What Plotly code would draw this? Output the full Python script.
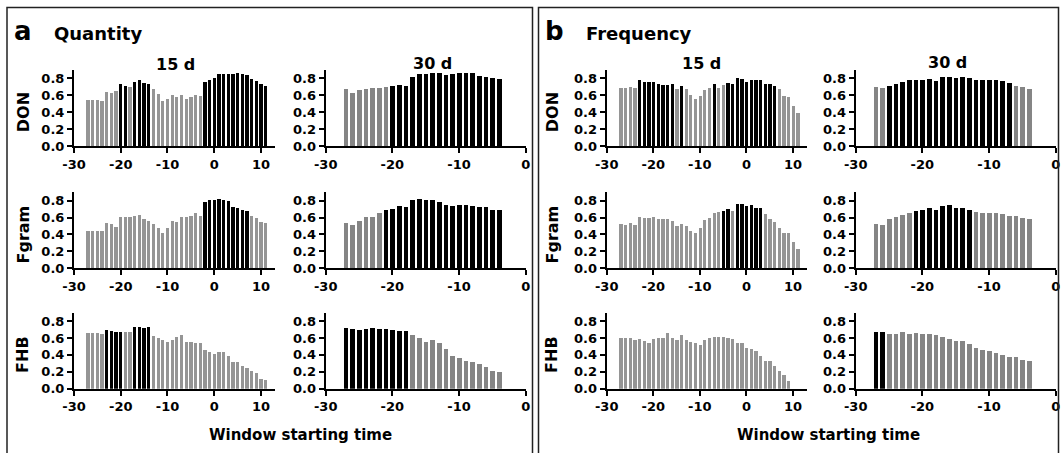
import plotly.graph_objects as go

W, H = 1062, 453

# ---------------- data ----------------
# window starting times (days)
START_15 = [-27, -26, -25, -24, -23, -22, -21, -20, -19, -18, -17, -16, -15, -14,
            -13, -12, -11, -10, -9, -8, -7, -6, -5, -4, -3, -2, -1, 0, 1, 2, 3,
            4, 5, 6, 7, 8, 9, 10, 11]
START_15_SHORT = [-27, -26, -25, -24, -23, -22, -21, -20, -19, -18, -17, -16, -15,
                  -14, -13, -12, -11, -10, -9, -8, -7, -6, -5, -4, -3, -2, -1, 0,
                  1, 2, 3, 4, 5, 6, 7, 8, 9]
START_30 = [-27, -26, -25, -24, -23, -22, -21, -20, -19, -18, -17, -16, -15, -14,
            -13, -12, -11, -10, -9, -8, -7, -6, -5, -4]

# (a) Quantity
q15_don = [0.55, 0.55, 0.55, 0.53, 0.64, 0.63, 0.65, 0.73, 0.71, 0.70, 0.76, 0.78,
           0.75, 0.73, 0.67, 0.62, 0.53, 0.56, 0.61, 0.58, 0.61, 0.56, 0.58, 0.60,
           0.59, 0.76, 0.78, 0.80, 0.85, 0.85, 0.85, 0.85, 0.86, 0.855, 0.84, 0.79,
           0.77, 0.73, 0.71]
q30_don = [0.67, 0.63, 0.66, 0.68, 0.69, 0.69, 0.70, 0.71, 0.72, 0.71, 0.82, 0.85,
           0.85, 0.86, 0.86, 0.84, 0.85, 0.86, 0.87, 0.86, 0.83, 0.82, 0.80, 0.79]
q15_fgram = [0.44, 0.44, 0.44, 0.44, 0.53, 0.52, 0.49, 0.60, 0.60, 0.60, 0.62, 0.63,
             0.58, 0.56, 0.52, 0.48, 0.42, 0.48, 0.56, 0.55, 0.60, 0.61, 0.62, 0.65,
             0.62, 0.78, 0.80, 0.81, 0.82, 0.81, 0.79, 0.72, 0.71, 0.69, 0.67, 0.62,
             0.59, 0.54, 0.53]
q30_fgram = [0.53, 0.51, 0.56, 0.60, 0.61, 0.65, 0.69, 0.70, 0.73, 0.72, 0.80, 0.82,
             0.81, 0.80, 0.78, 0.75, 0.74, 0.75, 0.75, 0.73, 0.72, 0.72, 0.69, 0.69]
q15_fhb = [0.66, 0.66, 0.66, 0.65, 0.70, 0.69, 0.67, 0.67, 0.67, 0.67, 0.74, 0.73,
           0.72, 0.73, 0.63, 0.60, 0.58, 0.56, 0.58, 0.62, 0.64, 0.56, 0.56, 0.54,
           0.54, 0.465, 0.44, 0.42, 0.44, 0.44, 0.39, 0.32, 0.32, 0.27, 0.25, 0.22,
           0.19, 0.12, 0.11]
q30_fhb = [0.72, 0.71, 0.70, 0.71, 0.72, 0.71, 0.71, 0.70, 0.69, 0.69, 0.64, 0.60,
           0.56, 0.575, 0.54, 0.47, 0.39, 0.37, 0.335, 0.315, 0.295, 0.26, 0.21, 0.205]

# (b) Frequency
f15_don = [0.69, 0.69, 0.70, 0.69, 0.78, 0.76, 0.76, 0.76, 0.74, 0.72, 0.72, 0.73,
           0.67, 0.71, 0.68, 0.61, 0.56, 0.59, 0.66, 0.69, 0.74, 0.69, 0.72, 0.75,
           0.73, 0.81, 0.79, 0.76, 0.78, 0.78, 0.78, 0.74, 0.74, 0.71, 0.68, 0.59,
           0.58, 0.48, 0.39]
f30_don = [0.70, 0.69, 0.71, 0.73, 0.76, 0.78, 0.78, 0.78, 0.79, 0.77, 0.82, 0.82,
           0.80, 0.82, 0.80, 0.78, 0.78, 0.78, 0.78, 0.77, 0.75, 0.71, 0.70, 0.68]
f15_fgram = [0.52, 0.515, 0.535, 0.515, 0.61, 0.595, 0.595, 0.60, 0.58, 0.58, 0.575,
             0.56, 0.50, 0.52, 0.50, 0.44, 0.42, 0.48, 0.57, 0.59, 0.65, 0.66, 0.68,
             0.70, 0.67, 0.76, 0.76, 0.74, 0.75, 0.71, 0.71, 0.64, 0.58, 0.54, 0.48,
             0.42, 0.41, 0.31, 0.23]
f30_fgram = [0.52, 0.51, 0.575, 0.60, 0.63, 0.65, 0.68, 0.69, 0.705, 0.69, 0.74,
             0.75, 0.71, 0.71, 0.69, 0.66, 0.655, 0.65, 0.65, 0.635, 0.615, 0.615,
             0.595, 0.575]
f15_fhb = [0.61, 0.61, 0.60, 0.58, 0.595, 0.57, 0.54, 0.595, 0.61, 0.61, 0.66, 0.61,
           0.58, 0.64, 0.58, 0.56, 0.55, 0.52, 0.575, 0.60, 0.62, 0.62, 0.62, 0.60,
           0.59, 0.54, 0.54, 0.485, 0.47, 0.45, 0.39, 0.33, 0.335, 0.27, 0.22, 0.165,
           0.095]
f30_fhb = [0.68, 0.675, 0.655, 0.655, 0.67, 0.655, 0.66, 0.655, 0.655, 0.645, 0.62,
           0.59, 0.57, 0.57, 0.53, 0.49, 0.465, 0.455, 0.425, 0.405, 0.385, 0.375,
           0.345, 0.335]

# windows drawn in black (significant)
q15_don_sig = [-20, -19, -17, -16, -15, -14, -2, -1, 0, 1, 2, 3, 4, 5, 6, 7, 8, 9, 10, 11]
q30_don_sig = [-20, -19, -18, -17, -16, -15, -14, -13, -12, -11, -10, -9, -8, -7, -6, -5, -4]
q15_fgram_sig = [-2, -1, 0, 1, 2, 3, 4, 5, 6, 7]
q30_fgram_sig = [-21, -20, -19, -18, -17, -16, -15, -14, -13, -12, -11, -10, -9, -8,
                 -7, -6, -5, -4]
q15_fhb_sig = [-23, -22, -21, -20, -17, -16, -15, -14]
q30_fhb_sig = [-27, -26, -25, -24, -23, -22, -21, -20, -19, -18]
f15_don_sig = [-23, -22, -21, -20, -19, -18, -17, -16, -14, -7, -4, -3, -2, -1, 0, 1,
               2, 3, 4, 5, 6]
f30_don_sig = [-25, -24, -23, -22, -21, -20, -19, -18, -17, -16, -15, -14, -13, -12,
               -11, -10, -9, -8, -7]
f15_fgram_sig = [-5, -4, -2, -1, 0, 1, 2, 3]
f30_fgram_sig = [-21, -20, -19, -18, -17, -16, -15, -14, -13]
f15_fhb_sig = []
f30_fhb_sig = [-27, -26]

ROW_NAMES = ["DON", "Fgram", "FHB"]
X_TICKS_15 = [-30, -20, -10, 0, 10]
X_TICKTEXT_15 = ["-30", "-20", "-10", "0", "10"]
X_TICKS_30 = [-30, -20, -10, 0]
X_TICKTEXT_30 = ["-30", "-20", "-10", "0"]
Y_TICKS = [0.0, 0.2, 0.4, 0.6, 0.8]
Y_TICKTEXT = ["0.0", "0.2", "0.4", "0.6", "0.8"]

# ---------------- layout helpers ----------------
FONT = "DejaVu Sans"
BLACK = "#000000"
GRAY15 = "#959595"
GRAY30 = "#858585"

COL_PX = {("a", 15): (74.0, 275.0), ("a", 30): (325.7, 525.7),
          ("b", 15): (606.7, 807.0), ("b", 30): (855.7, 1055.7)}
ROW_PX = [(69.9, 146.0), (192.2, 268.3), (312.6, 388.7)]


def fx(p):
    return p / W


def fy(p):
    return 1 - p / H


panels = [
    ("a", 15, 0, START_15, q15_don, q15_don_sig),
    ("a", 30, 0, START_30, q30_don, q30_don_sig),
    ("a", 15, 1, START_15, q15_fgram, q15_fgram_sig),
    ("a", 30, 1, START_30, q30_fgram, q30_fgram_sig),
    ("a", 15, 2, START_15, q15_fhb, q15_fhb_sig),
    ("a", 30, 2, START_30, q30_fhb, q30_fhb_sig),
    ("b", 15, 0, START_15, f15_don, f15_don_sig),
    ("b", 30, 0, START_30, f30_don, f30_don_sig),
    ("b", 15, 1, START_15, f15_fgram, f15_fgram_sig),
    ("b", 30, 1, START_30, f30_fgram, f30_fgram_sig),
    ("b", 15, 2, START_15_SHORT, f15_fhb, f15_fhb_sig),
    ("b", 30, 2, START_30, f30_fhb, f30_fhb_sig),
]

fig = go.Figure()
layout = {}
tickfont = dict(family=FONT, size=13, color="black", weight="bold")

for i, (side, win, row, xs, ys, sig) in enumerate(panels, start=1):
    xn = "x" if i == 1 else f"x{i}"
    yn = "y" if i == 1 else f"y{i}"
    gray = GRAY15 if win == 15 else GRAY30
    colors = [BLACK if s in sig else gray for s in xs]
    fig.add_trace(go.Bar(x=xs, y=ys, width=0.7,
                         marker=dict(color=colors, line=dict(width=0)),
                         xaxis=xn, yaxis=yn, showlegend=False, hoverinfo="skip"))
    x0, x1 = COL_PX[(side, win)]
    y0, y1 = ROW_PX[row]
    layout[f"xaxis{i}"] = dict(
        domain=[fx(x0), fx(x1)], anchor=yn, automargin=False,
        range=[-30, 13] if win == 15 else [-30, 0],
        tickvals=X_TICKS_15 if win == 15 else X_TICKS_30,
        ticktext=X_TICKTEXT_15 if win == 15 else X_TICKTEXT_30,
        showline=True, linecolor="black", linewidth=2,
        ticks="outside", ticklen=5, tickwidth=2, tickcolor="black",
        tickfont=tickfont, showgrid=False, zeroline=False, fixedrange=True)
    layout[f"yaxis{i}"] = dict(
        domain=[fy(y1), fy(y0)], anchor=xn, automargin=False,
        range=[0, 0.9], tickvals=Y_TICKS, ticktext=Y_TICKTEXT,
        showline=True, linecolor="black", linewidth=2,
        ticks="outside", ticklen=5, tickwidth=2, tickcolor="black",
        tickfont=tickfont, showgrid=False, zeroline=False, fixedrange=True)

annotations = []


def add_text(text, x, y, size, angle=0):
    annotations.append(dict(text=text, x=fx(x), y=fy(y), xref="paper", yref="paper",
                            xanchor="center", yanchor="middle", showarrow=False,
                            textangle=angle,
                            font=dict(family=FONT, size=size, color="black",
                                      weight="bold")))


# panel letters and headings
add_text("a", 23, 31, 26)
add_text("Quantity", 97.5, 33, 18)
add_text("b", 554, 31, 26)
add_text("Frequency", 639, 33, 18)
# window lengths
add_text("15 d", 175, 64, 16)
add_text("30 d", 432.5, 63, 16)
add_text("15 d", 701.7, 63, 16)
add_text("30 d", 947.5, 62, 16)
# row titles
for r, name in enumerate(ROW_NAMES):
    yc = (ROW_PX[r][1] + ROW_PX[r][1] - 0.8 * (ROW_PX[r][1] - ROW_PX[r][0]) / 0.9) / 2
    add_text(name, 23, yc, 16, -90)
    add_text(name, 552, yc, 16, -90)
# x titles
add_text("Window starting time", 300, 435, 15)
add_text("Window starting time", 828, 435, 15)

shapes = [
    dict(type="rect", xref="paper", yref="paper", x0=fx(7), x1=fx(532.5),
         y0=fy(470), y1=fy(7.5), line=dict(color="#222222", width=1.5)),
    dict(type="rect", xref="paper", yref="paper", x0=fx(538.5), x1=fx(1058.5),
         y0=fy(470), y1=fy(7.5), line=dict(color="#222222", width=1.5)),
]

fig.update_layout(
    template="none",
    width=W, height=H, autosize=False,
    margin=dict(l=0, r=0, t=0, b=0, pad=0, autoexpand=False),
    paper_bgcolor="white", plot_bgcolor="white",
    bargap=0, annotations=annotations, shapes=shapes,
    font=dict(family=FONT, color="black"),
    **layout,
)

fig.write_html("out.html", config={"displayModeBar": False},
               post_script="document.body.style.margin='0';document.body.style.overflow='hidden';")
